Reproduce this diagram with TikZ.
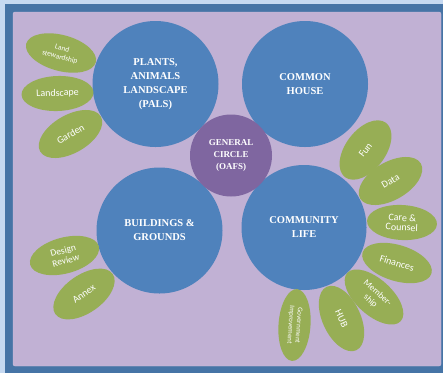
\documentclass[tikz,border=0pt]{standalone}
\usepackage{fontspec}
\setmainfont{Liberation Serif}
\setsansfont{Carlito}
\usetikzlibrary{shapes.geometric}
\definecolor{bgblue}{HTML}{C6D9F1}
\definecolor{frameblue}{HTML}{4674A6}
\definecolor{lavender}{HTML}{C1B1D4}
\definecolor{lavenderline}{HTML}{CFC3DF}
\definecolor{circleblue}{HTML}{4F82BC}
\definecolor{circlepurple}{HTML}{7F66A0}
\definecolor{leafgreen}{HTML}{97AE55}
\begin{document}
\begin{tikzpicture}[
                x=1pt, y=-1pt,
                bigcircle/.style={circle, fill=circleblue, text=white, minimum size=126pt, inner sep=0pt, align=center, font=\bfseries\fontsize{10.5}{14}\selectfont},
                midcircle/.style={bigcircle, fill=circlepurple, minimum size=82pt, font=\bfseries\fontsize{9}{12}\selectfont},
                leaf/.style={ellipse, fill=leafgreen, text=white, minimum width=70pt, minimum height=38pt, inner sep=0pt, align=center, font=\sffamily\fontsize{10}{10}\selectfont},
                smallleaf/.style={leaf, font=\sffamily\fontsize{7.4}{9}\selectfont}
            ]
                \useasboundingbox (0,0) rectangle (443,373);
                \fill[bgblue] (0,0) rectangle (443,373);
                \fill[frameblue] (5,4) rectangle (443,373);
                \filldraw[fill=lavender, draw=lavenderline, rounded corners=2pt] (13,12) rectangle (441,366);

                \node[bigcircle] (pals) at (155.5,84) {PLANTS,\\ANIMALS\\LANDSCAPE\\(PALS)};
                \node[bigcircle] (common) at (305,84) {COMMON\\HOUSE};
                \node[bigcircle] (buildings) at (159.5,230.5) {BUILDINGS \&\\GROUNDS};
                \node[bigcircle, minimum size=125pt] (community) at (304,227.5) {COMMUNITY\\LIFE};
                \node[midcircle] (general) at (231,155.5) {GENERAL\\CIRCLE\\(OAFS)};

                \node[smallleaf, rotate=-15, minimum width=72pt, minimum height=36pt] (land) at (61,53) {Land\\stewardship};
                \node[leaf, rotate=2, minimum width=72pt, minimum height=35pt] (landscape) at (57.5,93.5) {Landscape};
                \node[leaf, rotate=30] (garden) at (70.5,134) {Garden};
                \node[leaf, rotate=15, minimum width=71pt, minimum height=36pt, font=\sffamily\fontsize{9.5}{10.5}\selectfont] (design) at (64.5,255.5) {Design\\Review};
                \node[leaf, rotate=35] (annex) at (84,294) {Annex};

                \node[leaf, rotate=53, minimum width=68pt, minimum height=40pt] (fun) at (365.5,150) {Fun};
                \node[leaf, rotate=30] (data) at (390.5,181) {Data};
                \node[leaf, rotate=-3, minimum height=35pt, font=\sffamily\fontsize{10}{9.5}\selectfont] (care) at (402,222.5) {Care \&\\Counsel};
                \node[leaf, rotate=-17, minimum width=72pt, minimum height=36pt] (finances) at (397,263) {Finances};
                \node[leaf, rotate=-42, minimum width=72pt, minimum height=36pt, font=\sffamily\fontsize{9}{10.5}\selectfont] (member) at (374,297) {Member-\\ship};
                \node[leaf, rotate=-65] (hub) at (341.5,318.5) {HUB};
                \node[leaf, rotate=-94, minimum width=72pt, minimum height=32pt, font=\sffamily\fontsize{7}{8}\selectfont] (gov) at (294.5,325) {Government\\Improvement};
            \end{tikzpicture}
\end{document}
